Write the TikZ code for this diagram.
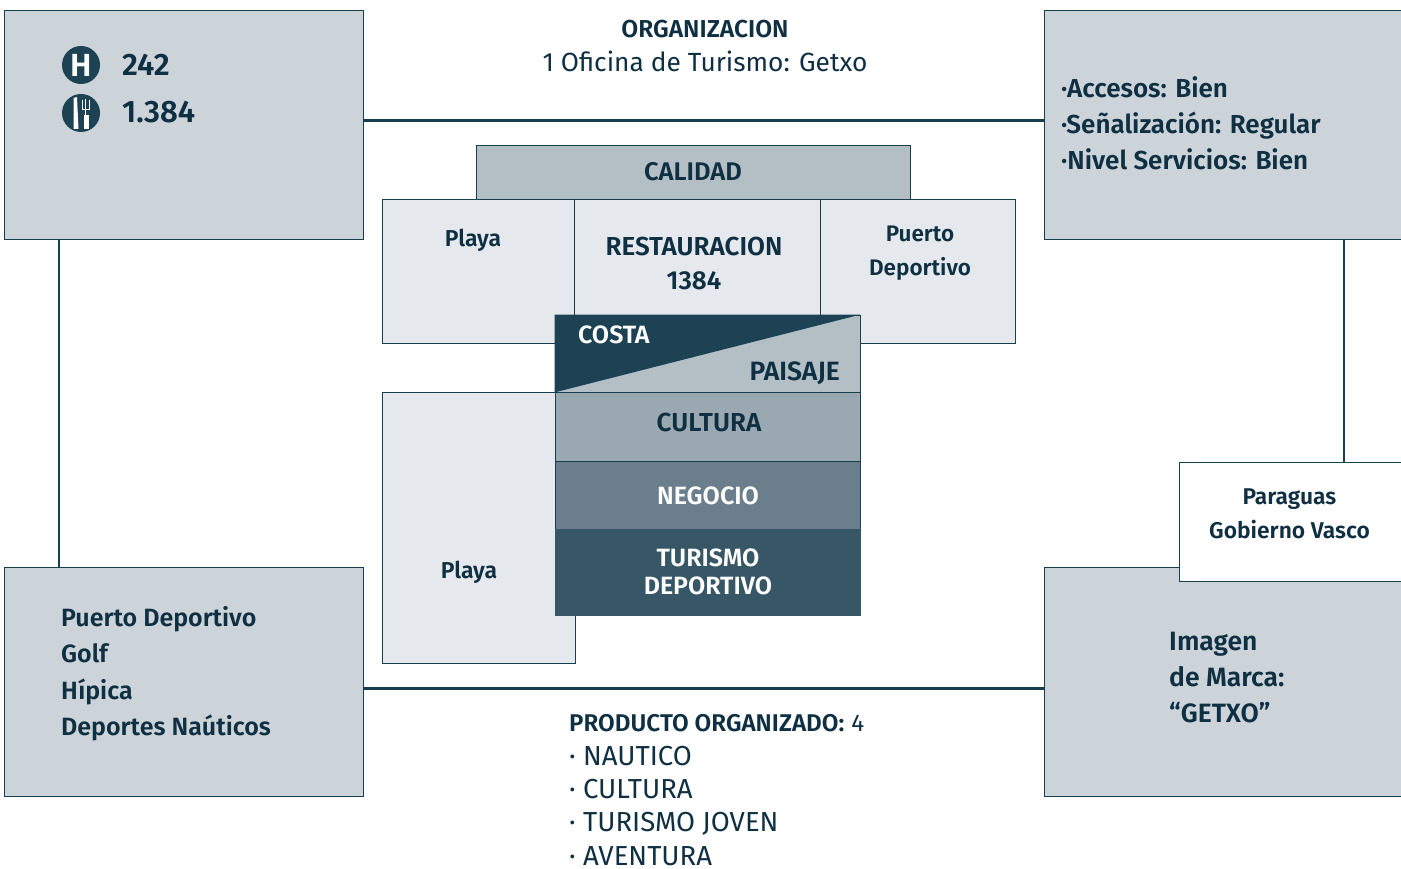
\documentclass[tikz,border=0pt]{standalone}
\usepackage{fontspec}
\setmainfont{Fira Sans}[BoldFont={Fira Sans SemiBold}]
\usepackage{xcolor}
\definecolor{azul_linea}{HTML}{17404F}
\definecolor{azul_texto}{HTML}{0F2F42}
\definecolor{gris_caja}{HTML}{CCD4DA}
\definecolor{gris_claro}{HTML}{E5E8EC}
\definecolor{gris_calidad}{HTML}{B3BFC5}
\definecolor{gris_cultura}{HTML}{9AA9B1}
\definecolor{gris_negocio}{HTML}{6A7F8B}
\definecolor{azul_turismo}{HTML}{375767}
\definecolor{azul_costa}{HTML}{1C4254}
\tikzset{
  caja/.style={draw=azul_linea,line width=0.8pt,rectangle,inner sep=0pt,text=azul_texto,align=center},
  caja_gris/.style={caja,fill=gris_caja},
  caja_clara/.style={caja,fill=gris_claro},
  linea/.style={draw=azul_linea,line width=2.4pt},
  texto/.style n args={2}{text=azul_texto,font=\fontsize{#1}{#2}\selectfont\bfseries,inner sep=0pt,align=left},
  texto_fino/.style n args={2}{text=azul_texto,font=\fontsize{#1}{#2}\selectfont,inner sep=0pt,align=left},
}
\begin{document}
\begin{tikzpicture}[x=1pt,y=-1pt]

\useasboundingbox (0,0) rectangle (1401,869) ;
\clip (0,0) rectangle (1401,869) ;

\coordinate (lin_sup) at (700,120.5) ;
\coordinate (lin_inf) at (700,688.5) ;
\coordinate (lin_izq) at (59,400) ;
\coordinate (lin_der) at (1344,400) ;

\node[caja_gris,minimum width=359pt,minimum height=228.5pt] (hoteles) at (184,124.7) {} ;
\node[caja_gris,minimum width=359pt,minimum height=228.5pt] (accesos) at (1224,124.7) {} ;
\node[caja_gris,minimum width=359pt,minimum height=228.5pt] (deportes) at (184,681.7) {} ;
\node[caja_gris,minimum width=359pt,minimum height=228.5pt] (imagen) at (1224,681.7) {} ;
\node[caja,fill=white,minimum width=224pt,minimum height=119pt] (paraguas) at (1291.5,522) {} ;

\draw[linea] (hoteles.east |- lin_sup) -- (accesos.west |- lin_sup) ;
\draw[linea] (deportes.east |- lin_inf) -- (imagen.west |- lin_inf) ;
\draw[linea] (hoteles.south -| lin_izq) -- (deportes.north -| lin_izq) ;
\draw[linea] (accesos.south -| lin_der) -- (paraguas.north -| lin_der) ;

\node[circle,fill=azul_costa,minimum size=38pt,inner sep=0pt,text=white,font=\fontsize{32}{32}\selectfont\bfseries] (hotel_ico) at (81,65) {H} ;
\node[circle,fill=azul_costa,minimum size=38pt,inner sep=0pt] (rest_ico) at (81,113) {} ;
\fill[white] (73.5,98) -- (77,97) -- (78.5,129) -- (73.5,129) -- cycle ;
\fill[white] (84,115) rectangle (88.5,129) ;
\draw[white,line width=1pt] (82.5,100) -- (82.5,110) -- (89,110) -- (89,100) (85.8,99) -- (85.8,115) ;

\node[texto={31}{36},anchor=base west] (n_hoteles) at (122,76) {242} ;
\node[texto={31}{36},anchor=base west] (n_rest) at (122,123) {1.384} ;

\node[texto={24.5}{36},anchor=base] (org_tit) at (705,38) {ORGANIZACION} ;
\node[texto_fino={26.3}{34},anchor=base] (org_txt) at (705,72) {1 Oficina de Turismo: Getxo} ;

\node[texto={26}{36},anchor=north west] (accesos_txt) at (1061,76) {·Accesos: Bien\\·Señalización: Regular\\·Nivel Servicios: Bien} ;
\node[texto={25}{36.5},anchor=north west] (deportes_txt) at (61,606) {Puerto Deportivo\\Golf\\Hípica\\Deportes Naúticos} ;
\node[texto={26.5}{36},anchor=north west] (imagen_txt) at (1169,632) {Imagen\\de Marca:\\“GETXO”} ;
\node[texto={22.8}{34},align=center] (paraguas_txt) at (1289.5,514) {Paraguas\\Gobierno Vasco} ;

\node[caja,fill=gris_calidad,minimum width=434pt,minimum height=54pt] (calidad) at (693,172) {} ;
\node[texto={25.5}{34},anchor=base] (calidad_txt) at (693,181) {CALIDAD} ;
\node[caja_clara,minimum width=193pt,minimum height=144.5pt] (playa_sup) at (478.5,271.5) {} ;
\node[caja_clara,minimum width=246pt,minimum height=144.5pt] (restauracion) at (697.5,271.5) {} ;
\node[caja_clara,minimum width=195pt,minimum height=144.5pt] (puerto) at (918,271.5) {} ;
\node[caja_clara,minimum width=193pt,minimum height=271.5pt] (playa_inf) at (478.5,527.9) {} ;

\node[texto={23}{34},align=center,anchor=base] (playa_sup_txt) at (473,247) {Playa} ;
\node[texto={26}{34},align=center] (rest_txt) at (694,264) {RESTAURACION\\1384} ;
\node[texto={22.5}{34},align=center] (puerto_txt) at (920,253) {Puerto\\Deportivo} ;
\node[texto={23}{34},align=center,anchor=base] (playa_inf_txt) at (469,578) {Playa} ;

\node[caja,fill=gris_calidad,minimum width=305pt,minimum height=77pt] (paisaje) at (707.5,353.5) {} ;
\fill[azul_costa] (paisaje.south west) -- (paisaje.north east) -- (paisaje.north west) -- cycle ;
\node[texto={25}{34},text=white,anchor=base west] (costa_txt) at (578,343) {COSTA} ;
\node[texto={26.5}{34},anchor=base east] (paisaje_txt) at (840,380) {PAISAJE} ;

\node[caja,fill=gris_cultura,minimum width=305pt,minimum height=69pt] (cultura) at (707.5,426.5) {} ;
\node[texto={26}{34},anchor=base] (cultura_txt) at (709,431) {CULTURA} ;
\node[caja,fill=gris_negocio,minimum width=305pt,minimum height=68pt] (negocio) at (707.5,495) {} ;
\node[texto={25}{34},text=white,anchor=base] (negocio_txt) at (708,504) {NEGOCIO} ;
\node[caja,draw=azul_turismo,fill=azul_turismo,minimum width=305pt,minimum height=86pt] (turismo) at (707.5,572) {} ;
\node[texto={25}{28},text=white,align=center] (turismo_txt) at (708,572) {TURISMO\\DEPORTIVO} ;

\node[texto={24.2}{34},anchor=base west] (prod_tit) at (569,731) {PRODUCTO ORGANIZADO:\hspace{7pt}\mdseries 4} ;
\node[texto_fino={27.5}{33.2},anchor=north west] (prod_txt) at (569,746) {· NAUTICO\\· CULTURA\\· TURISMO JOVEN\\· AVENTURA} ;

\end{tikzpicture}
\end{document}
